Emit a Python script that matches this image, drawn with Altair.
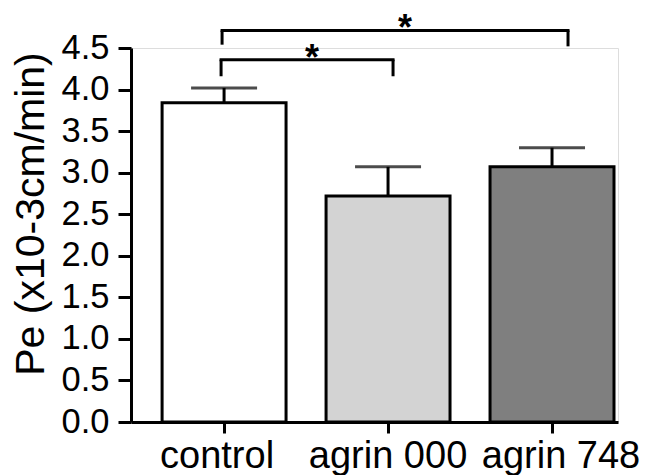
import altair as alt
import pandas as pd

# ---- data ----
categories = ["control", "agrin 000", "agrin 748"]
means = [3.84, 2.72, 3.07]
err_upper = [4.02, 3.07, 3.30]
bar_colors = ["#ffffff", "#d3d3d3", "#7f7f7f"]

y_ticks = [0.0, 0.5, 1.0, 1.5, 2.0, 2.5, 3.0, 3.5, 4.0, 4.5]

# significance brackets
bracket_start = ["control", "control"]
bracket_end = ["agrin 000", "agrin 748"]
bracket_level = [4.36, 4.71]
bracket_drop_start = [4.16, 4.54]
bracket_drop_end = [4.16, 4.52]
bracket_label = ["*", "*"]
star_anchor = ["control", "agrin 000"]
star_level = [4.23, 4.60]

FONT = "Liberation Sans"

bars_df = pd.DataFrame({"cat": categories, "mean": means, "err": err_upper})

x_scale = alt.Scale(domain=categories, paddingInner=0.244, paddingOuter=0.107, align=0.886)
y_scale = alt.Scale(domain=[0, 4.5], nice=False, zero=True)

x_enc = alt.X(
    "cat:N", sort=categories, scale=x_scale,
    axis=alt.Axis(title=None, labelAngle=0, labelFontSize=38, labelFont=FONT,
                  labelColor="black", tickSize=11, tickWidth=3, tickColor="black",
                  domainWidth=3, domainColor="black", labelPadding=4,
                  labelOffset={"expr": "datum.value == 'control' ? -7 : (datum.value == 'agrin 748' ? 9 : 0)"},
                  labelOverlap=False, labelFlush=False)
)
y_enc = alt.Y(
    "mean:Q", scale=y_scale,
    axis=alt.Axis(title="Pe (x10-3cm/min)", values=y_ticks, format=".1f",
                  labelFontSize=34.5, labelFont=FONT, labelColor="black",
                  tickSize=13, tickWidth=3, tickColor="black",
                  domainWidth=3, domainColor="black", labelPadding=9,
                  grid=False, titleFontSize=41, titleFont=FONT,
                  titleFontWeight="normal", titleColor="black",
                  titleX=-79, titleY=165.5)
)

bars = alt.Chart(bars_df).mark_bar(stroke="black", strokeWidth=3).encode(
    x=x_enc,
    y=y_enc,
    color=alt.Color("cat:N", scale=alt.Scale(domain=categories, range=bar_colors), legend=None),
)

stems = alt.Chart(bars_df).mark_rule(color="black", strokeWidth=3).encode(
    x=alt.X("cat:N", sort=categories),
    y=alt.Y("mean:Q"),
    y2="err:Q",
)

caps = alt.Chart(bars_df).mark_tick(color="black", size=66, thickness=3).encode(
    x=alt.X("cat:N", sort=categories),
    y=alt.Y("err:Q"),
)

layers = [bars, stems, caps]

# bracket offsets (pixel styling tweaks)
left_off = [-3, -2]
right_off = [5, 16]

for i in range(len(bracket_start)):
    bdf = pd.DataFrame({
        "a": [bracket_start[i]], "b": [bracket_end[i]],
        "lvl": [bracket_level[i]], "d1": [bracket_drop_start[i]], "d2": [bracket_drop_end[i]],
    })
    horiz = alt.Chart(bdf).mark_rule(color="black", strokeWidth=3, clip=False,
                                      xOffset=left_off[i] - 1.5, x2Offset=right_off[i] + 1.5).encode(
        x=alt.X("a:N", sort=categories), x2="b:N", y=alt.Y("lvl:Q"),
    )
    left_drop = alt.Chart(bdf).mark_rule(color="black", strokeWidth=3, clip=False,
                                          xOffset=left_off[i]).encode(
        x=alt.X("a:N", sort=categories), y=alt.Y("lvl:Q"), y2="d1:Q",
    )
    right_drop = alt.Chart(bdf).mark_rule(color="black", strokeWidth=3, clip=False,
                                           xOffset=right_off[i]).encode(
        x=alt.X("b:N", sort=categories), y=alt.Y("lvl:Q"), y2="d2:Q",
    )
    layers += [horiz, left_drop, right_drop]

star_dx = [88, 17]
for i in range(len(bracket_label)):
    sdf = pd.DataFrame({"c": [star_anchor[i]], "lvl": [star_level[i]], "t": [bracket_label[i]]})
    star = alt.Chart(sdf).mark_text(font=FONT, fontSize=36, fontWeight="bold", color="black",
                                    baseline="alphabetic", align="center", dx=star_dx[i],
                                    clip=False).encode(
        x=alt.X("c:N", sort=categories), y=alt.Y("lvl:Q"), text="t:N",
    )
    layers.append(star)

chart = alt.layer(*layers).properties(
    width=487, height=374,
    padding={"left": 123, "top": 40, "right": 26, "bottom": 60},
    autosize="none",
).configure_view(stroke=None).configure(background="white")

chart.save("out.html", embed_options={"renderer": "svg", "actions": False})
